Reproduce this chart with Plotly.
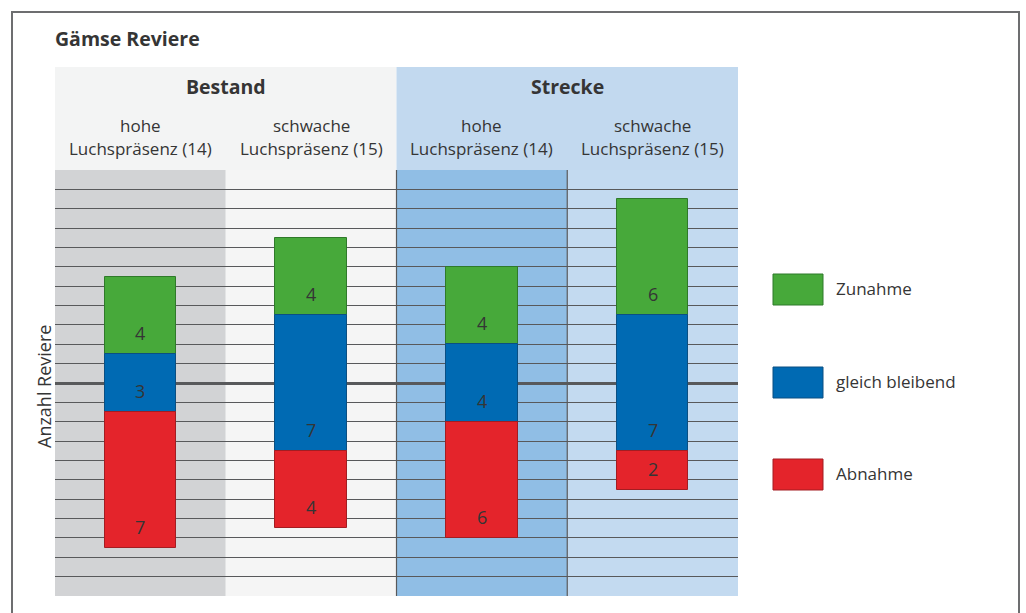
import plotly.graph_objects as go

# ---- data -------------------------------------------------------------
chart_title = "Gämse Reviere"
y_title = "Anzahl Reviere"
groups = ["Bestand", "Strecke"]
categories = [
    "hohe Luchspräsenz (14)",
    "schwache Luchspräsenz (15)",
    "hohe Luchspräsenz (14)",
    "schwache Luchspräsenz (15)",
]
series_names = ["Zunahme", "gleich bleibend", "Abnahme"]
zunahme = [4, 4, 4, 6]
gleich_bleibend = [3, 7, 4, 7]
abnahme = [7, 4, 6, 2]

# ---- geometry / style -------------------------------------------------
W, H = 1026, 613
L, R, T, B = 55, 738, 170, 596          # plot area in pixels


def px(x):
    return (x - L) / (R - L)


def py(y):
    return (B - y) / (B - T)


FILL = ["#47a93a", "#006ab3", "#e4242b"]
EDGE = ["#2f7a2a", "#0b4f82", "#a31d22"]
col_bg = ["#d2d3d5", "#f5f5f5", "#90bee5", "#c3daf0"]
head_bg = ["#f3f4f4", "#c2d9ef"]
GRID = "#58595b"
TXT = "#353535"
FONT = "Open Sans"

x = list(range(len(categories)))

# diverging stack: the "gleich bleibend" block is centred on zero
blue_base = [-g / 2 for g in gleich_bleibend]
green_base = [g / 2 for g in gleich_bleibend]
red_base = [-g / 2 - a for g, a in zip(gleich_bleibend, abnahme)]

segments = [
    (zunahme, green_base),
    (gleich_bleibend, blue_base),
    (abnahme, red_base),
]

fig = go.Figure()
for k, (vals, base) in enumerate(segments):
    fig.add_trace(go.Bar(
        x=x, y=vals, base=base, width=0.42,
        name=series_names[k], showlegend=False,
        marker=dict(color=FILL[k], line=dict(color=EDGE[k], width=1)),
        hoverinfo="skip",
    ))

annotations = []
# value labels, about one unit above the bottom of each block
for vals, base in segments:
    for i, (v, b0) in enumerate(zip(vals, base)):
        annotations.append(dict(
            x=i, y=b0 + 1.08, xref="x", yref="y", text=str(v),
            showarrow=False, xanchor="center", yanchor="middle",
            font=dict(family=FONT, size=18, color=TXT),
        ))

# category headers (two lines)
for i, cat in enumerate(categories):
    first, second = cat.split(" ", 1)
    cx = (i + 0.5) / len(categories)
    annotations.append(dict(
        x=cx, y=py(125.5), xref="paper", yref="paper", text=first,
        showarrow=False, xanchor="center", yanchor="middle",
        font=dict(family=FONT, size=17, color=TXT),
    ))
    annotations.append(dict(
        x=cx, y=py(148.5), xref="paper", yref="paper", text=second,
        showarrow=False, xanchor="center", yanchor="middle",
        font=dict(family=FONT, size=17, color=TXT),
    ))

# group headers
for j, g in enumerate(groups):
    annotations.append(dict(
        x=(j + 0.5) / len(groups), y=py(86.5), xref="paper", yref="paper",
        text=f"<b>{g}</b>", showarrow=False, xanchor="center", yanchor="middle",
        font=dict(family=FONT, size=19.5, color=TXT),
    ))

# title
annotations.append(dict(
    x=px(53), y=py(39), xref="paper", yref="paper",
    text=f"<b>{chart_title}</b>", showarrow=False,
    xanchor="left", yanchor="middle",
    font=dict(family=FONT, size=19.5, color=TXT),
))

# axis title
annotations.append(dict(
    x=px(44), y=py(387), xref="paper", yref="paper", text=y_title,
    textangle=-90, showarrow=False, xanchor="center", yanchor="middle",
    font=dict(family=FONT, size=18, color=TXT),
))

shapes = []
# column backgrounds
for i, c in enumerate(col_bg):
    shapes.append(dict(
        type="rect", xref="x", yref="paper", x0=i - 0.5, x1=i + 0.5,
        y0=0, y1=1, fillcolor=c, line=dict(width=0), layer="below",
    ))
# header backgrounds
for j, c in enumerate(head_bg):
    shapes.append(dict(
        type="rect", xref="paper", yref="paper",
        x0=j / len(groups), x1=(j + 1) / len(groups),
        y0=1, y1=py(67), fillcolor=c, line=dict(width=0), layer="below",
    ))
# separators in the Strecke block
for xv in (1.5, 2.5):
    shapes.append(dict(
        type="line", xref="x", yref="paper", x0=xv, x1=xv, y0=0, y1=1,
        line=dict(color=GRID, width=1.2), layer="below",
    ))
# outer frame
shapes.append(dict(
    type="rect", xref="paper", yref="paper",
    x0=px(12), x1=px(1019), y0=py(640), y1=py(12),
    line=dict(color="#6d6e70", width=2), fillcolor="rgba(0,0,0,0)",
))

# legend keys
legend_rows = [(274, 305, 288), (367, 398, 381), (459, 490, 473)]
for k, (top, bot, mid) in enumerate(legend_rows):
    shapes.append(dict(
        type="rect", xref="paper", yref="paper",
        x0=px(773), x1=px(823), y0=py(bot), y1=py(top),
        fillcolor=FILL[k], line=dict(color=EDGE[k], width=1),
    ))
    annotations.append(dict(
        x=px(834), y=py(mid), xref="paper", yref="paper",
        text=series_names[k], showarrow=False,
        xanchor="left", yanchor="middle",
        font=dict(family=FONT, size=17, color=TXT),
    ))

fig.update_layout(
    width=W, height=H,
    margin=dict(l=L, r=W - R, t=T, b=H - B, pad=0),
    paper_bgcolor="white", plot_bgcolor="rgba(0,0,0,0)",
    barmode="overlay", bargap=0,
    xaxis=dict(range=[-0.5, len(categories) - 0.5], showgrid=False,
               zeroline=False, showticklabels=False, ticks="",
               fixedrange=True),
    yaxis=dict(range=[-11, 11], tickmode="array",
               tickvals=list(range(-10, 11)), showticklabels=False,
               ticks="", showgrid=True, gridcolor=GRID, gridwidth=1,
               zeroline=True, zerolinecolor=GRID, zerolinewidth=2.5,
               fixedrange=True),
    shapes=shapes, annotations=annotations,
    font=dict(family=FONT, color=TXT),
)

fig.write_html("out.html")
